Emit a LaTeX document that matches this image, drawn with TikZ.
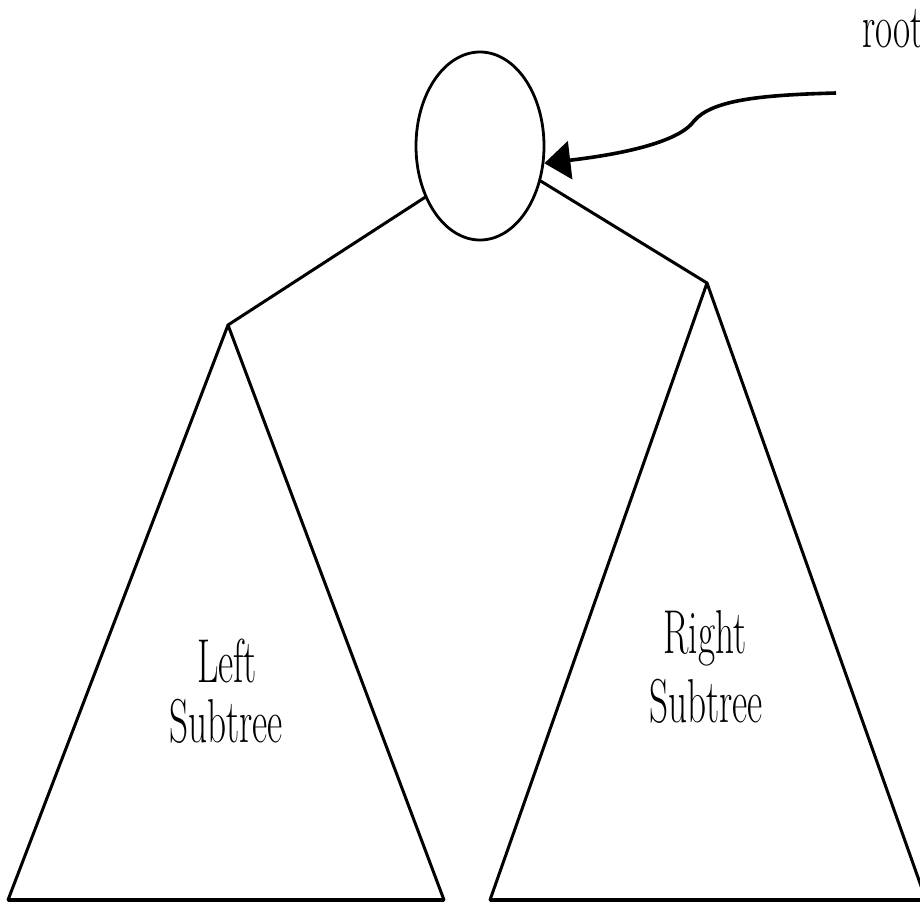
\documentclass[tikz,border=0pt]{standalone}
\usepackage{graphicx}
\usetikzlibrary{shapes.geometric,arrows.meta}
\tikzset{
  line/.style={line width=3pt, line join=round, line cap=round},
  base/.style={line width=4.2pt, line cap=butt},
  lbl/.style={inner sep=0pt, anchor=base, font=\fontsize{62}{64}\selectfont},
  pointer/.style={line width=3.6pt, -{Triangle[length=26pt,width=38pt]}}
}
\newcommand{\cond}[1]{\scalebox{0.6}[1]{#1}}
\begin{document}
\begin{tikzpicture}[x=1pt,y=-1pt]
\useasboundingbox (0,0) rectangle (920,906);
% root node
\node[ellipse, draw, line width=2.8pt, minimum width=128pt, minimum height=188pt, inner sep=0pt] (root) at (480,146) {};
% subtree apexes and corners
\coordinate (la) at (228,325);
\coordinate (lbl) at (8,900);
\coordinate (lbr) at (444,900);
\coordinate (ra) at (707,283);
\coordinate (rbl) at (490,900);
\coordinate (rbr) at (926,900);
% edges
\draw[line] (root.223) -- (la);
\draw[line] (root.330) -- (ra);
% triangles
\draw[line] (lbl) -- (la) -- (lbr);
\draw[base] (lbl) -- (lbr);
\draw[line] (rbl) -- (ra) -- (rbr);
\draw[base] (rbl) -- (rbr);
% labels
\node[lbl] (l1) at (227,682) {\cond{Left}};
\node[lbl] (l2) at (226,742) {\cond{Subtree}};
\node[lbl] (r1) at (705,653) {\cond{Right}};
\node[lbl] (r2) at (706,722) {\cond{Subtree}};
% root pointer
\node[inner sep=0pt, anchor=base west, font=\fontsize{62}{64}\selectfont] (rootlbl) at (862,47) {\cond{root}};
\coordinate (ptr) at (836,93);
\draw[pointer] (ptr) .. controls (760,95) and (712,100) .. (694,121)
  .. controls (682,138) and (640,152) .. (root.345);
\end{tikzpicture}
\end{document}
